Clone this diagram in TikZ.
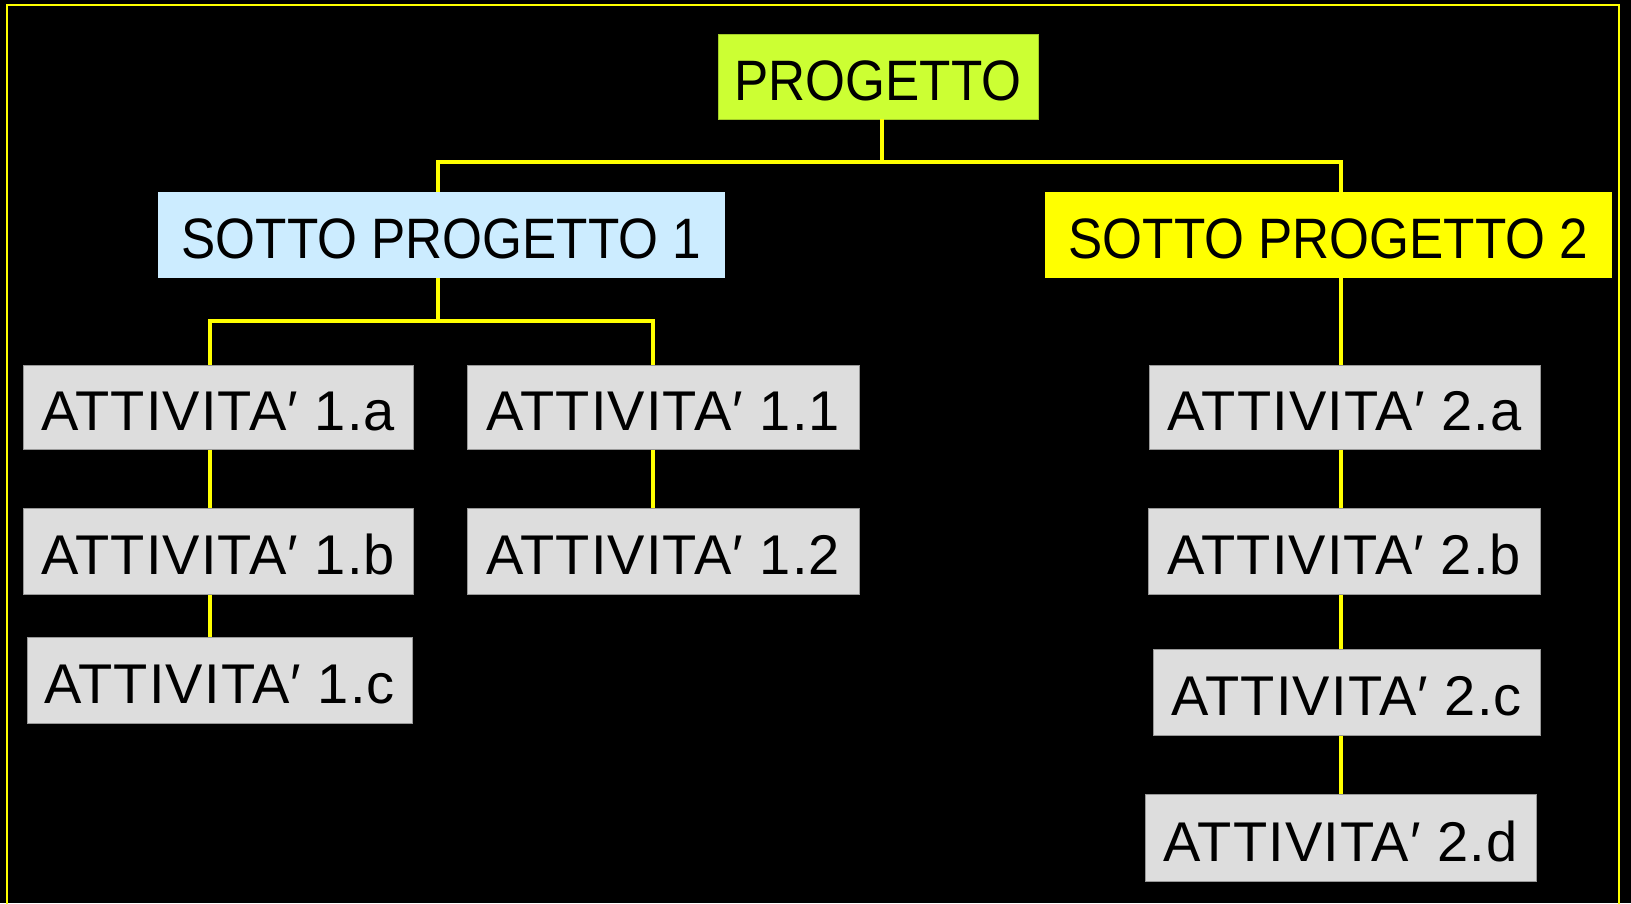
\documentclass[tikz,border=0pt]{standalone}
\usepackage{fontspec}
\setmainfont{Liberation Sans}
\newfontfamily\titlefont[FakeStretch=0.9]{Liberation Sans}
\newfontfamily\actfont[LetterSpace=2]{Liberation Sans}
\definecolor{limeg}{HTML}{CCFF33}
\definecolor{lightb}{HTML}{CCECFF}
\definecolor{yel}{HTML}{FFFF00}
\definecolor{actg}{HTML}{DDDDDD}
\tikzset{
  basebox/.style={rectangle, inner sep=0pt, text=black, text height=47pt, text depth=0pt},
  titlebox/.style={basebox, font=\titlefont\fontsize{57}{60}\selectfont},
  actbox/.style={basebox, fill=actg, draw=gray!80, line width=1pt, font=\actfont\fontsize{56}{60}\selectfont},
  conn/.style={draw=yel, line width=4pt},
}
\begin{document}
\begin{tikzpicture}[x=1pt,y=-1pt]
\useasboundingbox (0,0) rectangle (1631,903);
\fill[black] (0,0) rectangle (1631,903);
\begin{scope}
\clip (0,0) rectangle (1631,903);
\draw[yel, line width=2pt] (7,5) rectangle (1619,920);
\end{scope}
% nodes
\node[titlebox, fill=limeg, draw=limeg!80!black, line width=0.5pt, minimum width=320pt, minimum height=85pt] (prog) at (878,76.5) {PROGETTO};
\node[titlebox, fill=lightb, minimum width=567pt, minimum height=86pt] (sp1) at (441.5,235) {SOTTO PROGETTO 1};
\node[titlebox, fill=yel, minimum width=567pt, minimum height=86pt] (sp2) at (1328.5,235) {SOTTO PROGETTO 2};
\node[actbox, minimum width=390pt, minimum height=84pt] (a1a) at (218,407) {ATTIVITA′ 1.a};
\node[actbox, minimum width=390pt, minimum height=86pt] (a1b) at (218,551) {ATTIVITA′ 1.b};
\node[actbox, minimum width=385pt, minimum height=86pt] (a1c) at (219.5,680) {ATTIVITA′ 1.c};
\node[actbox, minimum width=392pt, minimum height=84pt] (a11) at (663,407) {ATTIVITA′ 1.1};
\node[actbox, minimum width=392pt, minimum height=86pt] (a12) at (663,551) {ATTIVITA′ 1.2};
\node[actbox, minimum width=391pt, minimum height=84pt] (a2a) at (1344.5,407) {ATTIVITA′ 2.a};
\node[actbox, minimum width=392pt, minimum height=86pt] (a2b) at (1344,551) {ATTIVITA′ 2.b};
\node[actbox, minimum width=387pt, minimum height=86pt] (a2c) at (1346.5,692) {ATTIVITA′ 2.c};
\node[actbox, minimum width=391pt, minimum height=87pt] (a2d) at (1340.5,837.5) {ATTIVITA′ 2.d};
% column coordinates
\coordinate (j0) at (882,162);
\coordinate (j1) at (438,321);
\coordinate (xS1) at (438,0);
\coordinate (xS2) at (1341,0);
\coordinate (xA) at (210,0);
\coordinate (xB) at (653,0);
% connectors
\draw[conn] (prog.south -| j0) -- (j0);
\draw[conn] (sp1.north -| xS1) |- (j0) -| (sp2.north -| xS2);
\draw[conn] (sp1.south -| xS1) -- (j1);
\draw[conn] (a1a.north -| xA) |- (j1) -| (a11.north -| xB);
\draw[conn] (a1a.south -| xA) -- (a1b.north -| xA);
\draw[conn] (a1b.south -| xA) -- (a1c.north -| xA);
\draw[conn] (a11.south -| xB) -- (a12.north -| xB);
\draw[conn] (sp2.south -| xS2) -- (a2a.north -| xS2);
\draw[conn] (a2a.south -| xS2) -- (a2b.north -| xS2);
\draw[conn] (a2b.south -| xS2) -- (a2c.north -| xS2);
\draw[conn] (a2c.south -| xS2) -- (a2d.north -| xS2);
\end{tikzpicture}
\end{document}
